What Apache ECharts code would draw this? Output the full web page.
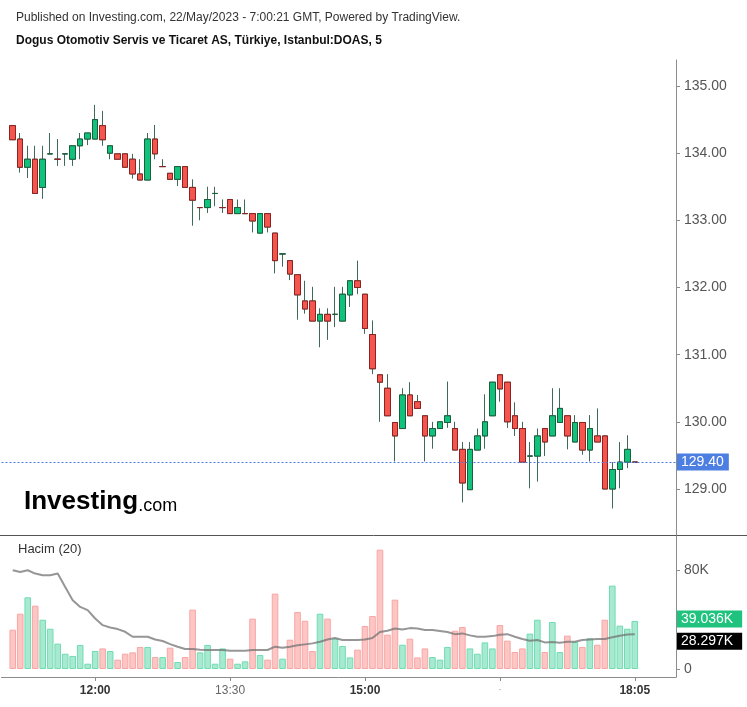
<!DOCTYPE html>
<html><head><meta charset="utf-8">
<script src="https://cdn.jsdelivr.net/npm/echarts@6/dist/echarts.min.js"></script>
<style>html,body{margin:0;padding:0;background:#fff}#c{width:747px;height:707px}</style>
</head><body><div id="c"></div>
<script>
const times = ['11:05','11:10','11:15','11:20','11:25','11:30','11:35','11:40','11:45','11:50','11:55',
'12:00','12:05','12:10','12:15','12:20','12:25','12:30','12:35','12:40','12:45','12:50','12:55',
'13:00','13:05','13:10','13:15','13:20','13:25','13:30','13:35','13:40','13:45','13:50','13:55',
'14:00','14:05','14:10','14:15','14:20','14:25','14:30','14:35','14:40','14:45','14:50','14:55',
'15:00','15:05','15:10','15:15','15:20','15:25','15:30','15:35','15:40','15:45','15:50','15:55',
'16:00','16:05','16:10','16:15','16:20','16:25','16:30','16:35','16:40','16:45','16:50','16:55',
'17:00','17:05','17:10','17:15','17:20','17:25','17:30','17:35','17:40','17:45','17:50','17:55','18:05'];
const opens = [134.41,134.21,133.79,133.91,133.49,133.99,133.91,133.99,133.91,134.11,
134.21,134.21,134.41,134.00,133.99,133.99,133.91,133.69,133.60,134.21,
133.80,133.70,133.61,133.80,133.49,133.19,133.19,133.40,133.19,133.31,
133.10,133.10,133.10,132.81,133.10,132.81,132.50,132.40,132.19,131.80,
131.80,131.50,131.60,131.60,131.50,131.89,132.10,131.90,131.30,130.70,
130.50,129.99,129.90,130.40,130.30,130.09,129.79,129.90,129.99,129.90,
129.59,128.99,129.58,129.79,130.09,130.70,130.59,130.09,129.90,129.49,
129.49,129.90,129.79,129.99,130.09,129.70,129.99,129.58,129.79,129.79,
129.00,129.29,129.40,129.40];
const closes = [134.20,133.79,133.91,133.40,133.91,133.99,133.91,133.99,134.11,134.21,
134.30,134.50,134.20,134.11,133.91,133.79,133.69,133.60,134.21,133.99,
133.80,133.61,133.80,133.49,133.30,133.19,133.31,133.40,133.19,133.10,
133.19,133.10,132.99,133.10,132.90,132.40,132.50,132.20,131.89,131.68,
131.50,131.60,131.50,131.60,131.90,132.10,132.00,131.39,130.79,130.59,
130.09,129.79,130.40,130.09,130.20,129.79,129.90,130.00,130.09,129.58,
129.09,129.59,129.79,130.00,130.59,130.49,130.00,129.90,129.40,129.49,
129.79,129.70,130.09,130.20,129.79,129.99,129.58,129.90,129.70,129.00,
129.29,129.40,129.59,129.40];
const lows = [134.20,133.71,133.63,133.40,133.32,133.99,133.81,133.81,133.81,133.91,
134.12,134.21,134.11,133.91,133.91,133.79,133.62,133.60,133.60,133.91,
133.80,133.61,133.51,133.49,132.92,133.00,133.11,133.21,133.11,133.10,
133.10,133.10,132.82,132.81,132.82,132.21,132.31,132.11,131.52,131.61,
131.50,131.11,131.22,131.41,131.50,131.71,131.90,131.31,130.71,130.00,
130.09,129.41,129.90,130.09,130.20,129.41,129.60,129.90,129.91,129.58,
128.80,128.99,129.58,129.60,130.09,130.30,129.91,129.79,129.40,129.01,
129.11,129.49,129.79,129.99,129.59,129.70,129.51,129.41,129.70,129.00,
128.71,129.01,129.31,129.40];
const highs = [134.42,134.30,134.11,134.11,134.11,134.30,134.21,133.99,134.11,134.30,
134.30,134.72,134.63,134.11,133.99,133.99,133.99,133.91,134.30,134.42,
133.91,133.70,133.80,133.80,133.61,133.19,133.50,133.50,133.31,133.31,
133.31,133.31,133.10,133.10,133.10,132.81,132.50,132.40,132.19,132.10,
132.01,131.69,131.69,132.01,132.01,132.10,132.40,131.90,131.51,130.70,
130.71,129.99,130.50,130.59,130.40,130.09,130.00,130.00,130.60,130.00,
129.70,129.70,129.90,130.41,130.59,130.70,130.59,130.29,130.00,129.70,
129.90,129.90,130.50,130.50,130.09,130.10,129.99,130.10,130.20,129.79,
129.40,129.70,129.80,129.40];
const volumesK = [31.9,44.9,58.2,51.4,40.0,32.7,20.6,12.4,10.6,19.5,
4.3,14.6,16.7,14.6,7.6,12.4,13.5,17.9,17.9,9.7,
9.7,17.3,5.7,9.7,48.2,13.5,19.5,4.3,16.7,8.4,
4.3,6.2,40.9,11.4,7.6,61.2,8.4,23.8,46.3,39.2,
14.6,44.9,40.9,24.6,18.7,9.4,15.7,34.9,43.0,96.9,
27.9,56.3,19.7,24.6,9.4,16.7,9.7,7.6,17.9,31.1,
34.1,16.7,12.4,21.6,16.7,35.7,23.0,13.8,16.7,28.7,
40.0,13.8,38.2,13.8,27.1,21.9,17.9,24.9,19.7,40.0,
67.7,35.2,32.7,39.036];
const volumeMAK = [80.2,78.8,80.2,77.5,76.1,76.1,77.5,66.6,55.9,50.4,
47.8,41.0,35.6,33.7,32.4,30.2,26.2,26.2,26.2,24.0,
22.7,20.2,18.1,16.2,16.2,15.6,15.4,15.4,15.4,14.8,
14.8,14.8,15.4,15.4,15.4,18.1,17.3,18.1,19.2,20.0,
20.8,22.1,24.0,25.1,23.5,23.5,23.5,24.0,25.1,30.0,
31.0,32.9,32.1,33.2,32.9,31.6,31.6,30.8,30.0,28.3,
28.9,27.3,26.2,26.2,26.7,27.8,28.3,26.2,24.3,22.9,
23.5,21.6,21.9,21.3,22.1,22.1,23.5,24.0,24.3,24.3,
25.7,27.0,28.1,28.297];
const priceTicks = [129,130,131,132,133,134,135];
const volumeTicksK = [0,80];
const lastPrice = 129.40;
const lastVolumeK = 39.036;
const lastVolumeMAK = 28.297;
const timeLabelStyle = {'12:00':'b','13:30':'n','15:00':'b','16:30':'d','18:05':'b'};

const padL = ['p0'], padR = ['p1','p2','p3','p4','p5'];
const cats = [...padL, ...times, ...padR];
const padData = arr => [...padL.map(()=>'-'), ...arr, ...padR.map(()=>'-')];

const UP = '#10c27b', UPB = '#1d5e3d', DN = '#f4564e', DNB = '#8c2222', WICK = '#3e6b57';
const wickData = padData(times.map((t,i)=>[opens[i],closes[i],lows[i],highs[i]]));
const bodyData = padData(times.map((t,i)=>[opens[i],closes[i],Math.min(opens[i],closes[i]),Math.max(opens[i],closes[i])]));
const volData = padData(volumesK.map((v,i)=>{
  const up = closes[i] >= opens[i];
  return {value:v, itemStyle:{color: up?'#a7ead1':'#fcc6c5', borderColor: up?'#6fdcb1':'#f8a6a4', borderWidth:1}};
}));
const maData = padData(volumeMAK);

const labelIdx = (idx, val) => timeLabelStyle[val] !== undefined;
const FONT = 'Liberation Sans, Arial, sans-serif';
const HIDDEN = 'rgba(0,0,0,0)';

const chart = echarts.init(document.getElementById('c'), null, {renderer:'canvas'});
chart.setOption({
  animation:false,
  backgroundColor:'#fff',
  textStyle:{fontFamily:FONT},
  grid:[
    {left:1.5, right:71, top:60, height:475},
    {left:1.5, right:71, top:536, height:141}
  ],
  xAxis:[
    {type:'category', gridIndex:0, data:cats, boundaryGap:true, show:false},
    {type:'category', gridIndex:1, data:cats, boundaryGap:true,
      axisLine:{show:true, onZero:false, lineStyle:{color:'#8c8c8c', width:1}},
      axisTick:{show:true, alignWithLabel:true, interval:labelIdx, length:4, lineStyle:{color:'#8c8c8c'}},
      axisLabel:{interval:labelIdx, margin:8, formatter:v=>{
        const s=timeLabelStyle[v];
        if(s==='b') return '{b|'+v+'}';
        if(s==='n') return '{n|'+v+'}';
        if(s==='d') return '{d|-}';
        return '';
      }, rich:{
        b:{fontFamily:FONT, fontSize:12, fontWeight:'bold', color:'#333'},
        n:{fontFamily:FONT, fontSize:12, color:'#666'},
        d:{fontFamily:FONT, fontSize:9, color:'#bbb'}
      }},
      splitLine:{show:false}}
  ],
  yAxis:[
    {type:'value', gridIndex:0, position:'right', min:128.315, max:135.387, scale:true,
      axisLine:{show:true, lineStyle:{color:'#8c8c8c'}},
      axisTick:{show:true, length:4, customValues:priceTicks, lineStyle:{color:'#8c8c8c'}},
      axisLabel:{customValues:priceTicks, formatter:v=>v.toFixed(2), color:'#555', fontSize:14, margin:8, fontFamily:FONT},
      splitLine:{show:false}},
    {type:'value', gridIndex:1, position:'right', min:-6.5, max:108.0,
      axisLine:{show:true, lineStyle:{color:'#8c8c8c'}},
      axisTick:{show:true, length:4, customValues:volumeTicksK, lineStyle:{color:'#8c8c8c'}},
      axisLabel:{customValues:volumeTicksK, formatter:v=>v===0?'0':v+'K', color:'#555', fontSize:14, margin:8, fontFamily:FONT},
      splitLine:{show:false}}
  ],
  series:[
    {type:'candlestick', name:'wick', xAxisIndex:0, yAxisIndex:0, data:wickData, barWidth:6,
      itemStyle:{color:UP, color0:DN, borderColor:WICK, borderColor0:WICK, borderWidth:1},
      markLine:{symbol:'none', silent:true, animation:false,
        data:[{yAxis:lastPrice}],
        lineStyle:{color:'#4a7be3', type:[2,2], width:1},
        label:{show:true, position:'end', distance:1, formatter:()=>lastPrice.toFixed(2),
          backgroundColor:'#4d7ee2', color:'#fff', fontSize:14, fontFamily:FONT, padding:[2,5,1,4]}}
    },
    {type:'candlestick', name:'body', xAxisIndex:0, yAxisIndex:0, data:bodyData, barWidth:6,
      itemStyle:{color:UP, color0:DN, borderColor:UPB, borderColor0:DNB, borderWidth:1}},
    {type:'bar', name:'vol', xAxisIndex:1, yAxisIndex:1, data:volData, barWidth:6.6,
      markLine:{symbol:'none', silent:true, animation:false, data:[{yAxis:lastVolumeK}],
        lineStyle:{color:HIDDEN, width:1},
        label:{show:true, position:'end', distance:1, formatter:()=>lastVolumeK.toFixed(3)+'K',
          backgroundColor:'#1fc37d', color:'#fff', fontSize:14, fontFamily:FONT, padding:[2,9,1,4], offset:[0,-2]}}
    },
    {type:'line', name:'ma', xAxisIndex:1, yAxisIndex:1, data:maData, symbol:'none', smooth:false,
      lineStyle:{color:'rgba(115,115,115,0.75)', width:2},
      markLine:{symbol:'none', silent:true, animation:false, data:[{yAxis:lastVolumeMAK}],
        lineStyle:{color:HIDDEN, width:1},
        label:{show:true, position:'end', distance:1, formatter:()=>lastVolumeMAK.toFixed(3)+'K',
          backgroundColor:'#000', color:'#fff', fontSize:14, fontFamily:FONT, padding:[2,9,1,4], offset:[0,7]}}
    }
  ],
  graphic:[
    {type:'text', left:16, top:12, style:{text:'Published on Investing.com, 22/May/2023 - 7:00:21 GMT, Powered by TradingView.', font:'12px '+FONT, fill:'#333'}},
    {type:'text', left:16, top:35, style:{text:'Dogus Otomotiv Servis ve Ticaret AS, Türkiye, Istanbul:DOAS, 5', font:'bold 12px '+FONT, fill:'#111'}},
    {type:'text', left:24, top:489, style:{text:'{a|Investing}{b|.com}', rich:{
      a:{fontWeight:'bold', fontSize:26, fontFamily:FONT, color:'#1a1a1a'},
      b:{fontSize:18, fontFamily:FONT, color:'#333', verticalAlign:'bottom', padding:[5,0,0,0]}
    }}},
    {type:'text', left:18, top:543, style:{text:'Hacim (20)', font:'13px '+FONT, fill:'#333'}},
    {type:'line', shape:{x1:0, y1:535.5, x2:747, y2:535.5}, style:{stroke:'#555', lineWidth:1}}
  ]
});
</script></body></html>
